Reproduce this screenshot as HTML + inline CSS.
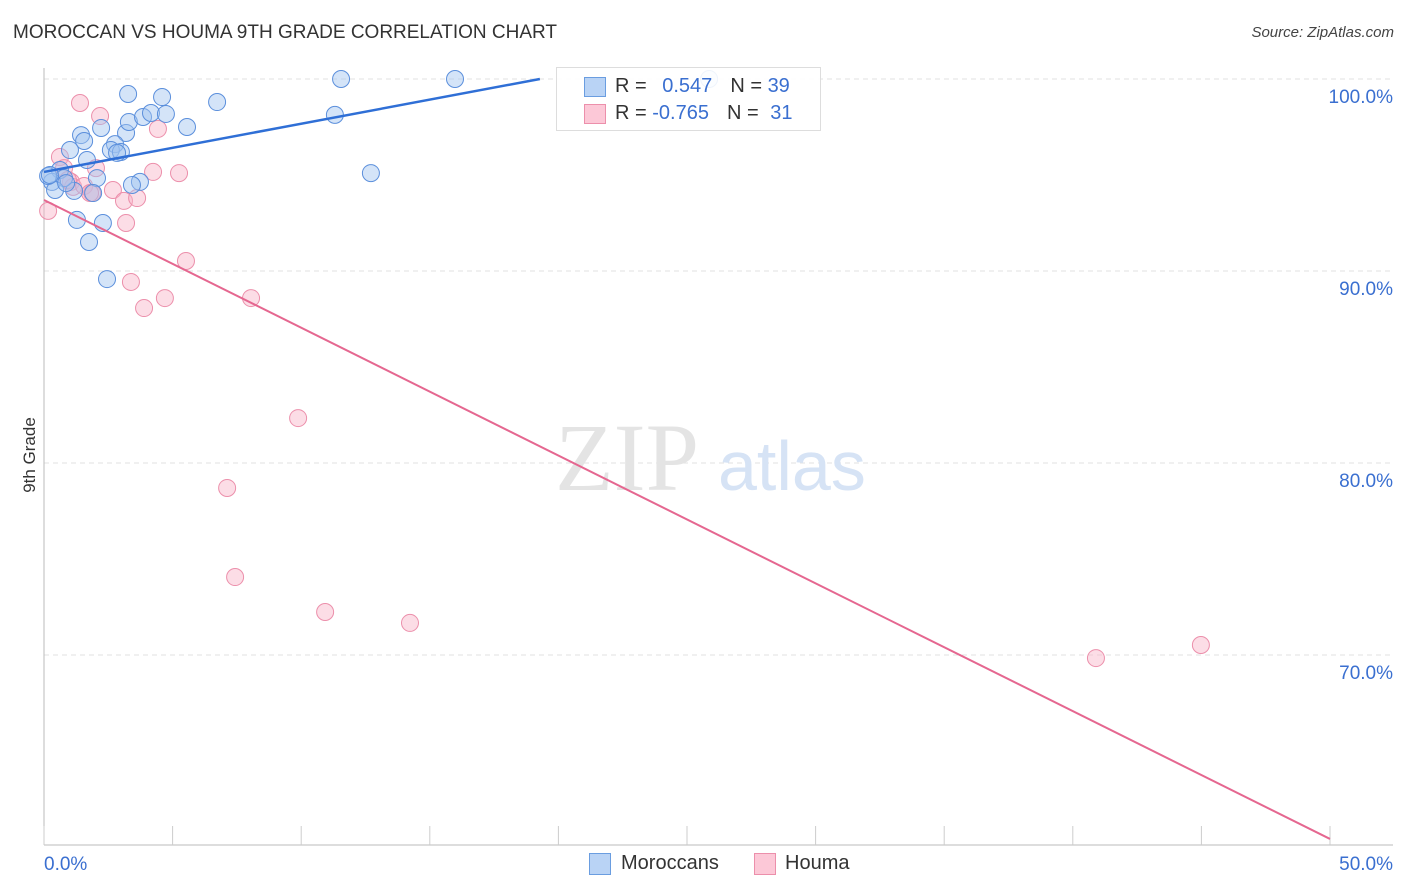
<!DOCTYPE html>
<html><head><meta charset="utf-8"><style>
body{margin:0;background:#fff;font-family:"Liberation Sans",sans-serif;}
#wrap{position:relative;width:1406px;height:892px;overflow:hidden;}
.t{position:absolute;white-space:nowrap;}
</style></head><body>
<div id="wrap">
<div class="t" style="left:13px;top:22px;font-size:19px;color:#333;">MOROCCAN VS HOUMA 9TH GRADE CORRELATION CHART</div>
<div class="t" style="right:12px;top:24px;font-size:15px;color:#444;font-style:italic;">Source: ZipAtlas.com</div>
<div class="t" style="left:-8px;top:445px;font-size:17px;color:#333;transform:rotate(-90deg);">9th Grade</div>
<svg id="plot" width="1406" height="892" style="position:absolute;left:0;top:0"></svg>
<div style="position:absolute;left:556px;top:67px;width:263px;height:62px;border:1px solid #ddd;background:rgba(255,255,255,0.9);font-size:20px;">
  <div style="position:absolute;left:27px;top:9px;width:20px;height:18px;background:#b9d3f5;border:1px solid #6a9de0;"></div>
  <div style="position:absolute;left:27px;top:36px;width:20px;height:18px;background:#fcc8d7;border:1px solid #ec8fab;"></div>
  <div class="t" style="left:58px;top:7px;color:#333;">R = <span style="color:#3a6fd0;margin-left:10px">0.547</span><span style="margin-left:18px;color:#333">N =</span> <span style="color:#3a6fd0">39</span></div>
  <div class="t" style="left:58px;top:34px;color:#333;">R = <span style="color:#3a6fd0">-0.765</span><span style="margin-left:18px;color:#333">N =</span> <span style="color:#3a6fd0;margin-left:6px">31</span></div>
</div>
<div style="position:absolute;left:589px;top:853px;width:20px;height:20px;background:#b9d3f5;border:1px solid #6a9de0;"></div>
<div class="t" style="left:621px;top:852px;font-size:20px;color:#333;">Moroccans</div>
<div style="position:absolute;left:754px;top:853px;width:20px;height:20px;background:#fcc8d7;border:1px solid #ec8fab;"></div>
<div class="t" style="left:785px;top:852px;font-size:20px;color:#333;">Houma</div>
</div>
<script>
const xTicksPct=[0,5,10,15,20,25,30,35,40,45,50];
const yTickVals=[100,90,80,70];
const yTickLabels=["100.0%","90.0%","80.0%","70.0%"];
const xLabelVals=[0,50];
const xLabelText=["0.0%","50.0%"];
const bluePx=[[128,94],[162,97],[217,102],[341,79],[455,79],[709,79],[101,128],[81,135],[84,141],[126,133],[129,122],[143,117],[151,113],[166,114],[187,127],[70,150],[87,160],[115,144],[111,150],[121,152],[117,153],[335,115],[371,173],[140,182],[132,185],[97,178],[93,193],[74,191],[60,170],[64,178],[52,182],[55,190],[48,176],[50,175],[77,220],[103,223],[89,242],[107,279],[66,183]];
const pinkPx=[[80,103],[100,116],[158,129],[60,157],[64,168],[179,173],[153,172],[96,168],[71,182],[73,187],[84,186],[92,193],[113,190],[124,201],[137,198],[126,223],[48,211],[186,261],[131,282],[144,308],[165,298],[251,298],[298,418],[227,488],[235,577],[325,612],[410,623],[1096,658],[1201,645],[68,180],[90,193]];
const blueX=bluePx.map(p=>+((p[0]-44)/25.72).toFixed(2));
const blueY=bluePx.map(p=>+(100-(p[1]-79)/19.2).toFixed(2));
const pinkX=pinkPx.map(p=>+((p[0]-44)/25.72).toFixed(2));
const pinkY=pinkPx.map(p=>+(100-(p[1]-79)/19.2).toFixed(2));
const blueLine=[[0,95.16],[19.28,100]];
const pinkLine=[[0,93.7],[50,60.42]];
const X=v=>44+v*25.72, Y=v=>79+(100-v)*19.2;
const svg=document.getElementById('plot');const NS='http://www.w3.org/2000/svg';
function mk(tag,a){const e=document.createElementNS(NS,tag);for(const k in a)e.setAttribute(k,a[k]);svg.appendChild(e);return e;}
yTickVals.forEach((v,i)=>{
 const g=mk('line',{x1:44,x2:1393,y1:Y(v),y2:Y(v),stroke:'#e2e2e2','stroke-dasharray':'5,4'});
 
 
 const t=mk('text',{x:1393,y:Y(v)+24,'text-anchor':'end','font-size':19,fill:'#3a6fd0','font-family':'Liberation Sans'});
 t.textContent=yTickLabels[i];
 
 
});
const ax=mk('line',{x1:44,x2:44,y1:68,y2:845,stroke:'#bbb'});


const bx=mk('line',{x1:44,x2:1393,y1:845,y2:845,stroke:'#bbb'});


xTicksPct.forEach(v=>{const l=mk('line',{x1:X(v),x2:X(v),y1:826,y2:845,stroke:'#ccc'});
 
 });
xLabelVals.forEach((v,i)=>{const t=mk('text',{x:v===0?X(v):1393,y:870,'text-anchor':v===0?'start':'end','font-size':19,fill:'#3a6fd0','font-family':'Liberation Sans'});t.textContent=xLabelText[i];
 
 });
const w1=mk('text',{x:555,y:490,'font-size':96,fill:'#e4e4e4','font-family':'Liberation Serif'});w1.textContent='ZIP';


const w2=mk('text',{x:718,y:490,'font-size':70,fill:'#d6e3f5','font-family':'Liberation Sans'});w2.textContent='atlas';


pinkX.forEach((x,i)=>{const c=mk('circle',{cx:X(x),cy:Y(pinkY[i]),r:8.5,fill:'rgba(248,180,200,0.45)',stroke:'#ec8fab','stroke-width':1});
 
 });
blueX.forEach((x,i)=>{const c=mk('circle',{cx:X(x),cy:Y(blueY[i]),r:8.5,fill:'rgba(160,195,240,0.45)',stroke:'#5b8fdc','stroke-width':1});
 
 });
const lb=mk('line',{x1:X(blueLine[0][0]),y1:Y(blueLine[0][1]),x2:X(blueLine[1][0]),y2:Y(blueLine[1][1]),stroke:'#2f6fd6','stroke-width':2.5});


const lp=mk('line',{x1:X(pinkLine[0][0]),y1:Y(pinkLine[0][1]),x2:X(pinkLine[1][0]),y2:Y(pinkLine[1][1]),stroke:'#e56790','stroke-width':2});


</script>
</body></html>
